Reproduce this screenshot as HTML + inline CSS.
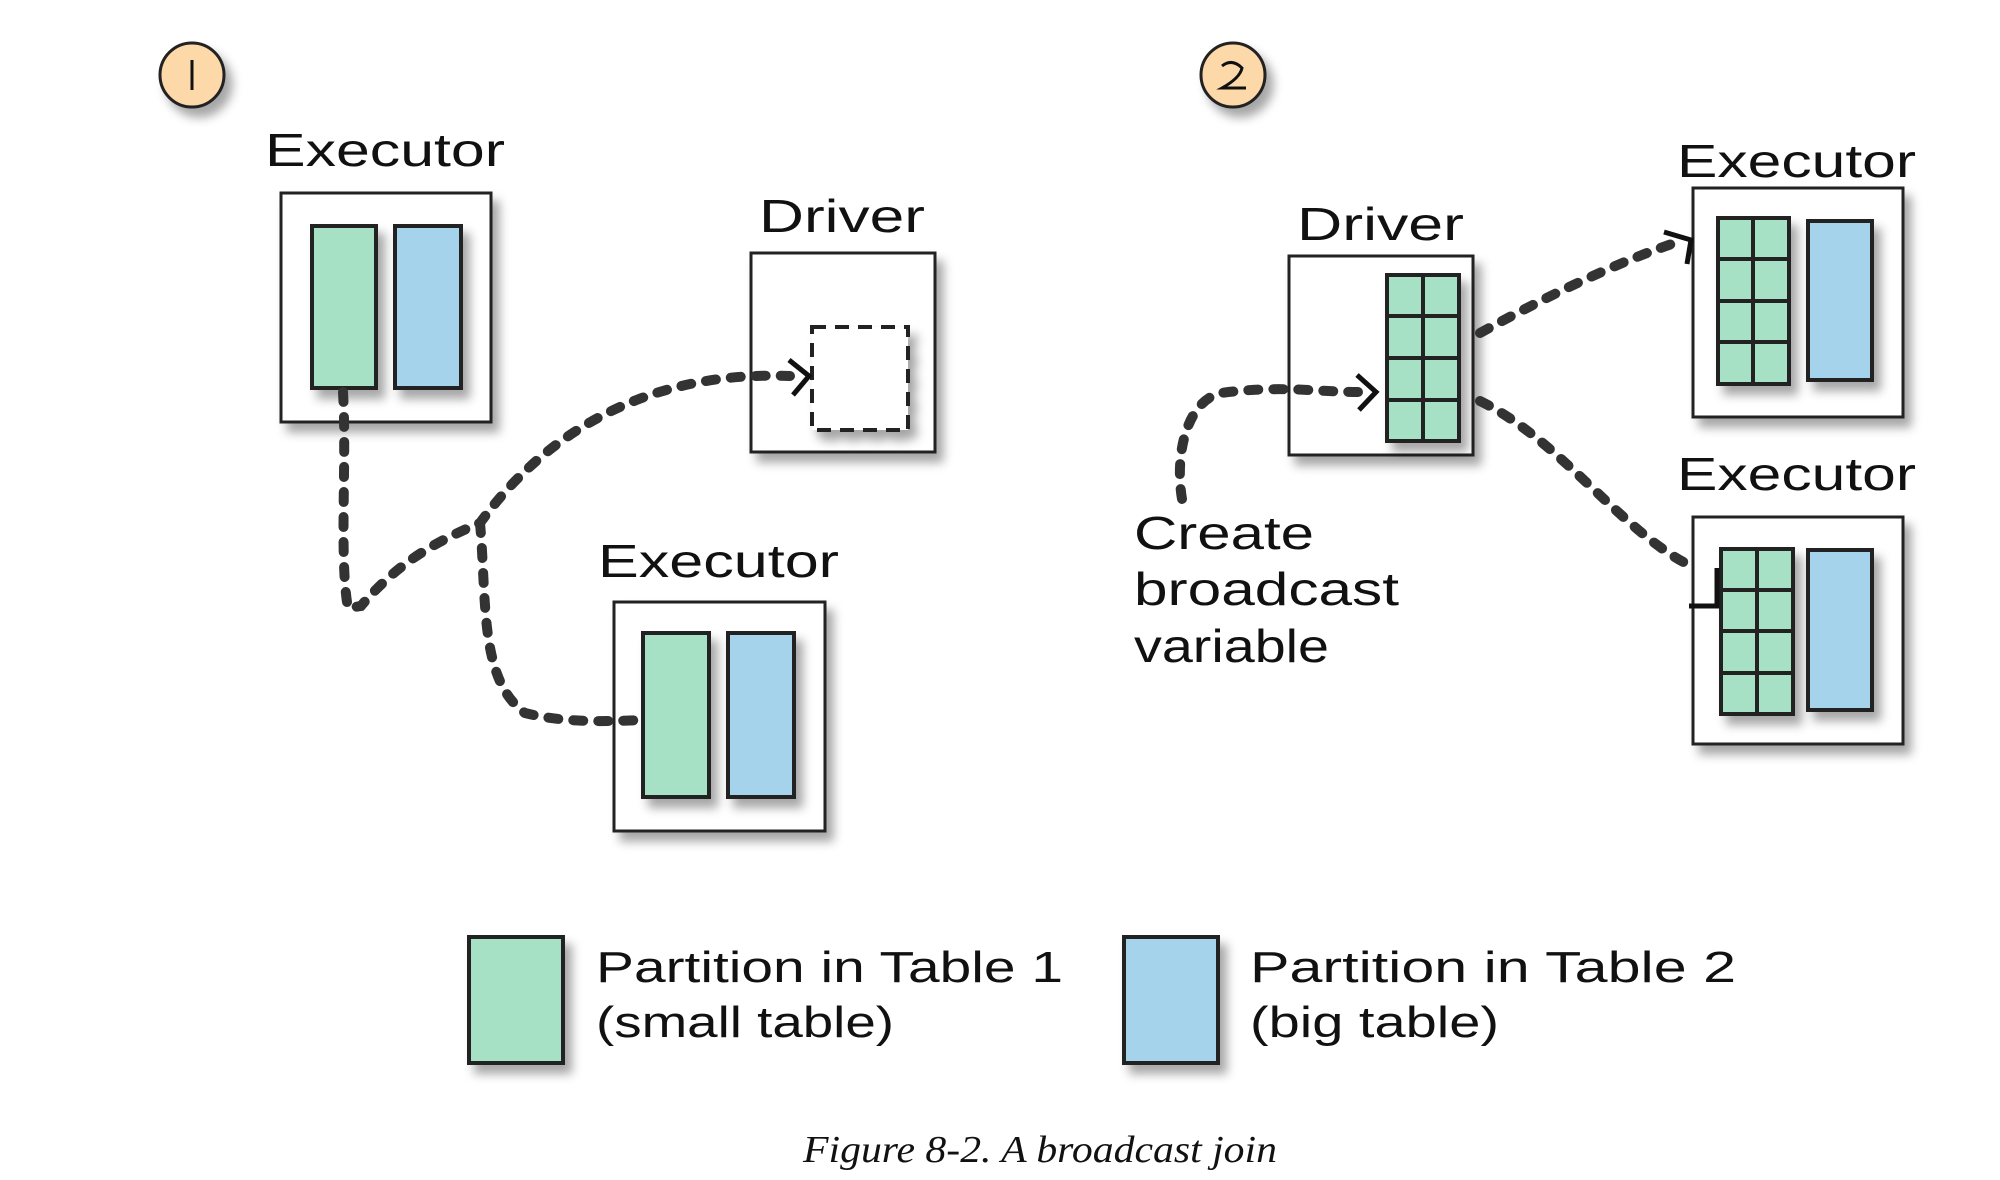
<!DOCTYPE html>
<html><head><meta charset="utf-8"><style>
html,body{margin:0;padding:0;background:#fff;}
svg{display:block}
text{font-family:"Liberation Sans",sans-serif;fill:#111;}
</style></head><body>
<svg width="2000" height="1180" viewBox="0 0 2000 1180" xmlns="http://www.w3.org/2000/svg">
<defs>
<filter id="sh" x="-20%" y="-20%" width="150%" height="150%">
<feDropShadow dx="7" dy="9" stdDeviation="5" flood-color="#000" flood-opacity="0.35"/>
</filter>
</defs>
<g stroke="#222" stroke-width="3">
<ellipse cx="192" cy="75" rx="32" ry="32" fill="#fdd8a8" filter="url(#sh)"/>
<ellipse cx="1233" cy="75" rx="32" ry="32" fill="#fdd8a8" filter="url(#sh)"/>
<rect x="281" y="193" width="210" height="229" fill="#fff" filter="url(#sh)"/>
<rect x="751" y="253" width="184" height="199" fill="#fff" filter="url(#sh)"/>
<rect x="614" y="602" width="211" height="229" fill="#fff" filter="url(#sh)"/>
<rect x="1289" y="256" width="184" height="199" fill="#fff" filter="url(#sh)"/>
<rect x="1693" y="188" width="210" height="229" fill="#fff" filter="url(#sh)"/>
<rect x="1693" y="517" width="210" height="227" fill="#fff" filter="url(#sh)"/>
</g>
<g stroke="#222" stroke-width="4">
<rect x="312" y="226" width="64" height="162" fill="#a6e0c5" filter="url(#sh)"/>
<rect x="395" y="226" width="66" height="162" fill="#a6d3ec" filter="url(#sh)"/>
<rect x="643" y="633" width="66" height="164" fill="#a6e0c5" filter="url(#sh)"/>
<rect x="728" y="633" width="66" height="164" fill="#a6d3ec" filter="url(#sh)"/>
<rect x="812" y="327" width="96" height="103" fill="#fff" stroke-dasharray="14 9" filter="url(#sh)"/>
<g fill="#a6e0c5">
<rect x="1387" y="275" width="72" height="166" filter="url(#sh)"/>
<rect x="1718" y="218" width="71" height="166" filter="url(#sh)"/>
<rect x="1721" y="549" width="72" height="165" filter="url(#sh)"/>
</g>
<path d="M1423 275V441M1387 316H1459M1387 358H1459M1387 400H1459" fill="none"/>
<path d="M1753 218V384M1718 259H1789M1718 301H1789M1718 342H1789" fill="none"/>
<path d="M1757 549V714M1721 590H1793M1721 631H1793M1721 673H1793" fill="none"/>
<rect x="1808" y="221" width="64" height="159" fill="#a6d3ec" filter="url(#sh)"/>
<rect x="1808" y="550" width="64" height="160" fill="#a6d3ec" filter="url(#sh)"/>
<rect x="469" y="937" width="94" height="126" fill="#a6e0c5" filter="url(#sh)"/>
<rect x="1124" y="937" width="94" height="126" fill="#a6d3ec" filter="url(#sh)"/>
</g>
<g fill="none" stroke="#333" stroke-width="10" stroke-dasharray="10 15" stroke-linecap="round">
<path d="M343 392 C347 460 339 560 348 608 L361 606 C400 560 440 540 480 523 C540 440 640 370 790 376"/>
<path d="M480 523 C487 600 479 680 525 713 C560 722 600 722 640 720"/>
<path d="M1182 499 C1174 450 1189 400 1221 393 C1280 385 1320 392 1358 392"/>
<path d="M1480 333 C1540 300 1620 260 1684 240"/>
<path d="M1480 401 C1560 440 1620 530 1689 565"/>
</g>
<g fill="none" stroke="#111" stroke-width="5">
<path d="M789 360 L809 376 L793 395"/>
<path d="M1357 375 L1376 392 L1359 410"/>
<path d="M1664 232 L1691 240 L1687 264"/>
<path d="M1717 568 V606 H1689"/>
</g>
<path d="M192 60 V90 M1222 66 Q1232 58 1242 68 Q1240 78 1222 88 H1246" fill="none" stroke="#111" stroke-width="3"/>
<g font-size="46">
<text x="265" y="166" textLength="240" lengthAdjust="spacingAndGlyphs">Executor</text>
<text x="759" y="232" textLength="166" lengthAdjust="spacingAndGlyphs">Driver</text>
<text x="598" y="577" textLength="241" lengthAdjust="spacingAndGlyphs">Executor</text>
<text x="1297" y="240" textLength="167" lengthAdjust="spacingAndGlyphs">Driver</text>
<text x="1677" y="177" textLength="239" lengthAdjust="spacingAndGlyphs">Executor</text>
<text x="1677" y="490" textLength="239" lengthAdjust="spacingAndGlyphs">Executor</text>
<text x="1134" y="549" textLength="180" lengthAdjust="spacingAndGlyphs">Create</text>
<text x="1134" y="605" textLength="265" lengthAdjust="spacingAndGlyphs">broadcast</text>
<text x="1134" y="662" textLength="195" lengthAdjust="spacingAndGlyphs">variable</text>
</g>
<g font-size="44">
<text x="596" y="982" textLength="467" lengthAdjust="spacingAndGlyphs">Partition in Table 1</text>
<text x="596" y="1037" textLength="298" lengthAdjust="spacingAndGlyphs">(small table)</text>
<text x="1250" y="982" textLength="486" lengthAdjust="spacingAndGlyphs">Partition in Table 2</text>
<text x="1250" y="1037" textLength="249" lengthAdjust="spacingAndGlyphs">(big table)</text>
</g>
<text x="803" y="1162" font-size="38" font-style="italic" style="font-family:'Liberation Serif',serif" textLength="474" lengthAdjust="spacingAndGlyphs">Figure 8-2. A broadcast join</text>
</svg>
</body></html>
